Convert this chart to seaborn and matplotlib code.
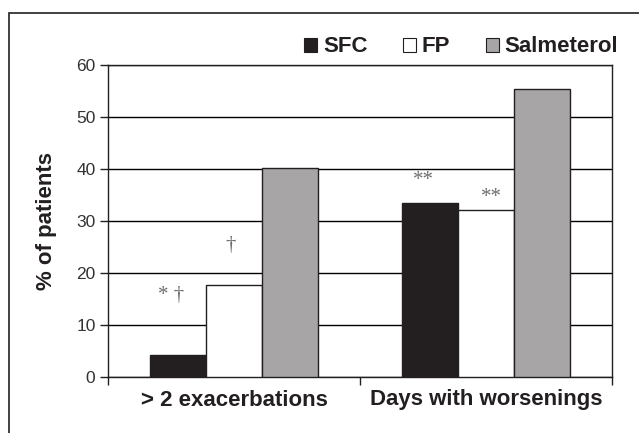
import pandas as pd
import matplotlib
matplotlib.use("Agg")
import matplotlib.pyplot as plt
import seaborn as sns
from matplotlib.patches import Patch

# data
outcomes = ["> 2 exacerbations", "Days with worsenings"]
treatments = ["SFC", "FP", "Salmeterol"]
sfc = [4.3, 33.4]
fp = [17.6, 32.1]
salmeterol = [40.1, 55.4]
colors = ["#231f20", "#ffffff", "#a7a5a6"]

# significance marks: (text, x in category units, y in %)
marks = [("* \u2020", -0.25, 15.6), ("\u2020", -0.015, 25.2),
         ("**", 0.75, 37.8), ("**", 1.02, 34.6)]

df = pd.DataFrame({
    "Outcome": outcomes * 3,
    "Treatment": ["SFC"] * 2 + ["FP"] * 2 + ["Salmeterol"] * 2,
    "Percent": sfc + fp + salmeterol,
})

sns.set_style("white")
plt.rcParams["font.family"] = ["Liberation Sans", "DejaVu Sans"]
ink = "#231f20"

fig = plt.figure(figsize=(6.39, 4.33), dpi=100)
ax = fig.add_axes([108 / 639, 1 - 377 / 433, 504 / 639, 312 / 433])

sns.barplot(data=df, x="Outcome", y="Percent", hue="Treatment",
            hue_order=treatments, palette=colors, width=0.67,
            edgecolor=ink, linewidth=1.0, saturation=1, ax=ax, legend=False,
            zorder=3)

ax.set_ylim(0, 60)
ax.set_xlim(-0.5, 1.5)
ax.set_yticks(range(0, 61, 10))
ax.yaxis.grid(True, color="black", linewidth=1.0, zorder=0)
ax.set_axisbelow(True)

for s in ax.spines.values():
    s.set_color(ink)
    s.set_linewidth(1.0)

ax.tick_params(axis="y", direction="out", length=6, width=1, color=ink,
               labelsize=12.5, labelcolor="#333333", pad=3, left=True)
ax.set_xticks([0, 1])
ax.set_xticklabels(outcomes, fontsize=16, fontweight="bold", color=ink)
ax.tick_params(axis="x", length=0, pad=9)
ax.set_xticks([-0.5, 0.5, 1.5], minor=True)
ax.tick_params(axis="x", which="minor", direction="out", length=6, width=1,
               color=ink, bottom=True)

ax.set_xlabel("")
ax.set_ylabel("% of patients", fontsize=16, fontweight="bold", color=ink,
              labelpad=14)

for txt, x, y in marks:
    ax.text(x, y, txt, ha="center", va="center", fontsize=15, color="#6e6e6e",
            family=["Liberation Serif", "DejaVu Serif"], zorder=4)

handles = [Patch(facecolor=c, edgecolor=ink, linewidth=0.8) for c in colors]
fig.legend(handles, treatments, loc="center left",
           bbox_to_anchor=(284 / 639, 1 - 47 / 433), ncol=3, frameon=False,
           prop={"size": 16, "weight": "bold"}, handlelength=0.6,
           handleheight=0.6, handletextpad=0.25, columnspacing=1.6,
           labelcolor=ink)

# outer frame that runs off the right and bottom edges
frame = plt.Rectangle((9 / 639, -0.1), 1.2, 1 - 13 / 433 + 0.1,
                      transform=fig.transFigure, fill=False,
                      edgecolor="#333333", linewidth=1.3)
fig.patches.append(frame)

plt.savefig("out.png", dpi=100)
